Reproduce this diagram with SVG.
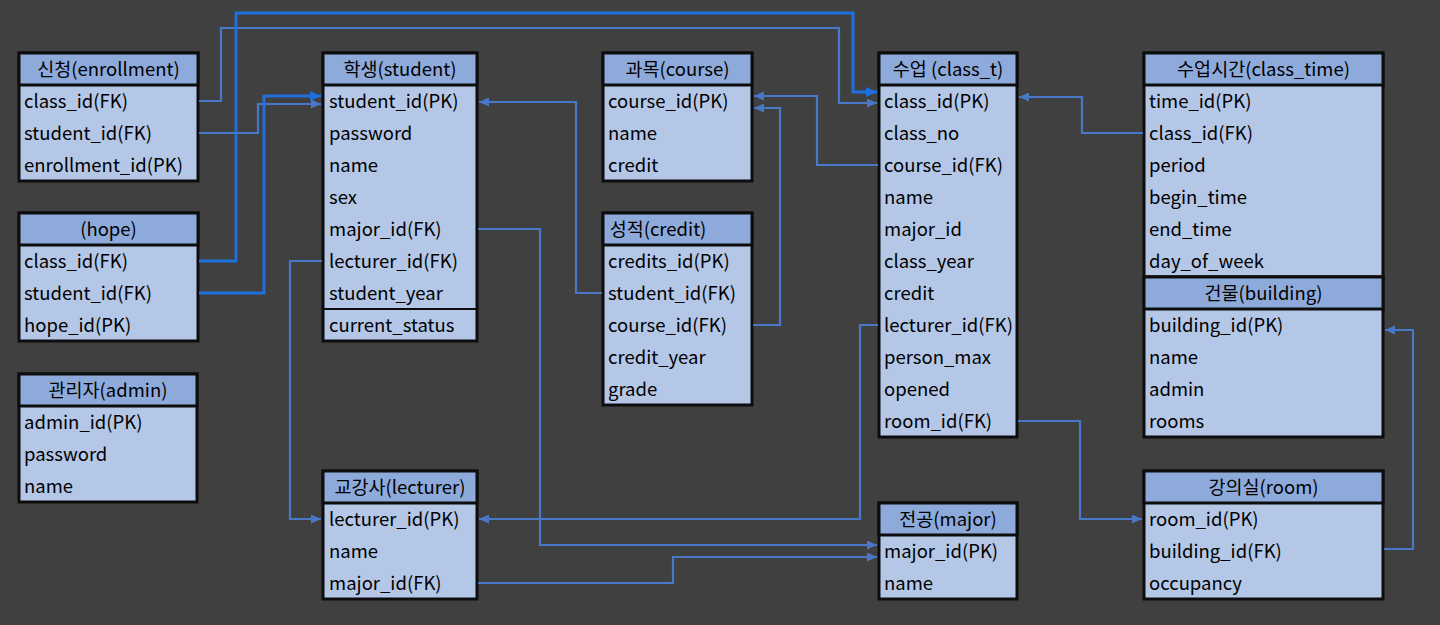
<svg xmlns="http://www.w3.org/2000/svg" width="1440" height="625" viewBox="0 0 1440 625">
<style>
.tb{fill:#b4c7e7;stroke:#0d0d0d;stroke-width:3}
.hd{fill:#8eaadb;stroke:#0d0d0d;stroke-width:3}
.sep{stroke:#0d0d0d;stroke-width:2}
text{font-family:"Noto Sans CJK KR","Noto Sans",sans-serif;font-size:18.5px;fill:#000}
.h{text-anchor:middle}
.c{fill:none;stroke:#4a78c8;stroke-width:2.2;marker-end:url(#a)}
.b{fill:none;stroke:#1f6fdd;stroke-width:3;marker-end:url(#ab)}
</style>
<defs>
<marker id="a" markerUnits="userSpaceOnUse" markerWidth="10" markerHeight="9" refX="10" refY="4.5" orient="auto"><path d="M0,0 L10,4.5 L0,9 z" fill="#4a78c8"/></marker>
<marker id="ab" markerUnits="userSpaceOnUse" markerWidth="11" markerHeight="10" refX="11" refY="5" orient="auto"><path d="M0,0 L11,5 L0,10 z" fill="#1f6fdd"/></marker>
</defs>
<rect width="1440" height="625" fill="#404040"/>

<g id="enrollment">
<rect class="tb" x="19" y="53" width="179" height="128"/>
<rect class="hd" x="19" y="53" width="179" height="32"/>
<text class="h" x="108.5" y="76">신청(enrollment)</text>
<text x="24" y="108">class_id(FK)</text>
<text x="24" y="140">student_id(FK)</text>
<text x="24" y="172">enrollment_id(PK)</text>
</g>

<g id="hope">
<rect class="tb" x="19" y="213" width="179" height="128"/>
<rect class="hd" x="19" y="213" width="179" height="32"/>
<text class="h" x="108.5" y="236">(hope)</text>
<text x="24" y="268">class_id(FK)</text>
<text x="24" y="300">student_id(FK)</text>
<text x="24" y="332">hope_id(PK)</text>
</g>

<g id="admin">
<rect class="tb" x="19" y="374" width="178" height="128"/>
<rect class="hd" x="19" y="374" width="178" height="32"/>
<text class="h" x="108" y="397">관리자(admin)</text>
<text x="24" y="429">admin_id(PK)</text>
<text x="24" y="461">password</text>
<text x="24" y="493">name</text>
</g>

<g id="student">
<rect class="tb" x="323" y="53" width="154" height="288"/>
<rect class="hd" x="323" y="53" width="154" height="32"/>
<line class="sep" x1="323" y1="309" x2="477" y2="309"/>
<text class="h" x="400" y="76">학생(student)</text>
<text x="329" y="108">student_id(PK)</text>
<text x="329" y="140">password</text>
<text x="329" y="172">name</text>
<text x="329" y="204">sex</text>
<text x="329" y="236">major_id(FK)</text>
<text x="329" y="268">lecturer_id(FK)</text>
<text x="329" y="300">student_year</text>
<text x="329" y="332">current_status</text>
</g>

<g id="lecturer">
<rect class="tb" x="323" y="471" width="154" height="128"/>
<rect class="hd" x="323" y="471" width="154" height="32"/>
<text class="h" x="400" y="494">교강사(lecturer)</text>
<text x="329" y="526">lecturer_id(PK)</text>
<text x="329" y="558">name</text>
<text x="329" y="590">major_id(FK)</text>
</g>

<g id="course">
<rect class="tb" x="603" y="53" width="149" height="128"/>
<rect class="hd" x="603" y="53" width="149" height="32"/>
<text class="h" x="677.5" y="76">과목(course)</text>
<text x="608" y="108">course_id(PK)</text>
<text x="608" y="140">name</text>
<text x="608" y="172">credit</text>
</g>

<g id="credit">
<rect class="tb" x="603" y="213" width="149" height="192"/>
<rect class="hd" x="603" y="213" width="149" height="32"/>
<text class="h" x="658" y="236">성적(credit)</text>
<text x="608" y="268">credits_id(PK)</text>
<text x="608" y="300">student_id(FK)</text>
<text x="608" y="332">course_id(FK)</text>
<text x="608" y="364">credit_year</text>
<text x="608" y="396">grade</text>
</g>

<g id="class_t">
<rect class="tb" x="879" y="53" width="138" height="384"/>
<rect class="hd" x="879" y="53" width="138" height="32"/>
<text class="h" x="948" y="76">수업 (class_t)</text>
<text x="884" y="108">class_id(PK)</text>
<text x="884" y="140">class_no</text>
<text x="884" y="172">course_id(FK)</text>
<text x="884" y="204">name</text>
<text x="884" y="236">major_id</text>
<text x="884" y="268">class_year</text>
<text x="884" y="300">credit</text>
<text x="884" y="332">lecturer_id(FK)</text>
<text x="884" y="364">person_max</text>
<text x="884" y="396">opened</text>
<text x="884" y="428">room_id(FK)</text>
</g>

<g id="major">
<rect class="tb" x="879" y="503" width="138" height="96"/>
<rect class="hd" x="879" y="503" width="138" height="32"/>
<text class="h" x="948" y="526">전공(major)</text>
<text x="884" y="558">major_id(PK)</text>
<text x="884" y="590">name</text>
</g>

<g id="class_time">
<rect class="tb" x="1144" y="53" width="239" height="224"/>
<rect class="hd" x="1144" y="53" width="239" height="32"/>
<text class="h" x="1263.5" y="76">수업시간(class_time)</text>
<text x="1149" y="108">time_id(PK)</text>
<text x="1149" y="140">class_id(FK)</text>
<text x="1149" y="172">period</text>
<text x="1149" y="204">begin_time</text>
<text x="1149" y="236">end_time</text>
<text x="1149" y="268">day_of_week</text>
</g>

<g id="building">
<rect class="tb" x="1144" y="277" width="239" height="160"/>
<rect class="hd" x="1144" y="277" width="239" height="32"/>
<text class="h" x="1263.5" y="300">건물(building)</text>
<text x="1149" y="332">building_id(PK)</text>
<text x="1149" y="364">name</text>
<text x="1149" y="396">admin</text>
<text x="1149" y="428">rooms</text>
</g>

<g id="room">
<rect class="tb" x="1144" y="471" width="239" height="128"/>
<rect class="hd" x="1144" y="471" width="239" height="32"/>
<text class="h" x="1263.5" y="494">강의실(room)</text>
<text x="1149" y="526">room_id(PK)</text>
<text x="1149" y="558">building_id(FK)</text>
<text x="1149" y="590">occupancy</text>
</g>

<g id="connectors">
<path class="c" d="M199,101 H221 V28 H839 V103 H877"/>
<path class="b" d="M199,261 H236 V13 H853 V92 H877"/>
<path class="c" d="M199,133 H258 V104 H321"/>
<path class="b" d="M199,293 H264 V96 H321"/>
<path class="c" d="M602,293 H576 V102 H479"/>
<path class="c" d="M478,229 H540 V545 H877"/>
<path class="c" d="M478,583 H673 V557 H877"/>
<path class="c" d="M322,261 H290 V519 H321"/>
<path class="c" d="M878,325 H860 V519 H479"/>
<path class="c" d="M878,165 H817 V96 H754"/>
<path class="c" d="M753,325 H780 V108 H754"/>
<path class="c" d="M1143,133 H1082 V97 H1019"/>
<path class="c" d="M1018,421 H1080 V519 H1142"/>
<path class="c" d="M1384,549 H1413 V330 H1385"/>
</g>
</svg>
